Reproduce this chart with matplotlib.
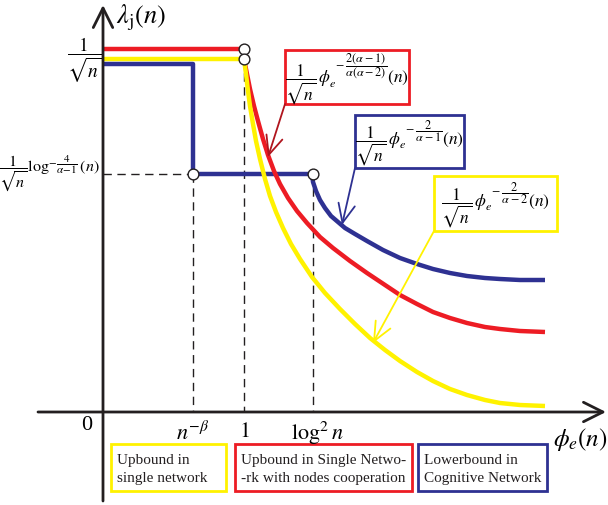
import matplotlib
matplotlib.use("Agg")
import matplotlib.pyplot as plt
from matplotlib.patches import Rectangle

# ==============================
# sketch of the throughput bounds lambda_j(n) vs phi_e(n)
# coordinates are in sketch units (pixels of the 608x506 canvas)
# ==============================
plt.rcParams['font.family'] = ['Liberation Serif', 'DejaVu Serif']
plt.rcParams['mathtext.fontset'] = 'stix'

RED = '#ED1C24'
YELLOW = '#FFF200'
BLUE = '#2E3192'

# special points on the phi_e(n) axis
x_ticks = [193, 244, 313]
x_tick_labels = [r'$n^{-\beta}$', r'$1$', r'$\log^2 n$']

# levels on the lambda_j(n) axis
y_ticks = [55, 175]
y_tick_labels = [r'$\dfrac{1}{\sqrt{n}}$',
                 r'$\dfrac{1}{\sqrt{n}}\log^{-\dfrac{4}{\alpha-1}}(n)$']

# flat parts
red_flat_x = [103, 244]
red_flat_y = [50, 50]
yellow_flat_x = [103, 244]
yellow_flat_y = [60, 60]
blue_step_x = [103, 193, 193, 313]
blue_step_y = [65, 65, 175, 175]

# decaying parts
red_curve_x = [244, 247, 250, 254, 258, 263, 268, 274, 280, 288, 297, 307, 320,
               333, 350, 367, 385, 400, 417, 433, 450, 467, 485, 500, 520, 545]
red_curve_y = [60, 75, 90, 107, 122, 140, 156, 172, 185, 199, 212, 224, 238,
               249, 262, 274, 286, 296, 305, 313, 319, 324, 328, 330, 332, 333]
yellow_curve_x = [244, 246, 248, 250, 253, 256, 260, 265, 270, 276, 283, 291, 300, 312,
                  325, 340, 355, 370, 385, 400, 417, 433, 450, 467, 485, 500, 520, 545]
yellow_curve_y = [60, 75, 92, 107, 125, 142, 160, 180, 197, 213, 229, 245, 260, 278,
                  294, 310, 325, 339, 351, 362, 373, 382, 390, 396, 401, 404, 406, 407]
blue_curve_x = [312, 313, 316, 320, 325, 331, 338, 345, 355, 367, 383, 400, 417, 433,
                450, 467, 485, 500, 520, 545]
blue_curve_y = [175, 183, 192, 201, 209, 217, 223, 229, 235, 242, 251, 259, 265, 270,
                274, 277, 279, 280, 281, 281]

# open circles at the breakpoints
circle_x = [244, 244, 193, 313]
circle_y = [50, 60, 175, 175]

legend_labels = ['Upbound in\nsingle network',
                 'Upbound in Single Netwo-\n-rk with nodes cooperation',
                 'Lowerbound in\nCognitive Network']
legend_colors = [YELLOW, RED, BLUE]

formulas = [r'$\dfrac{1}{\sqrt{n}}\,\phi_e^{\;-\dfrac{2(\alpha-1)}{\alpha(\alpha-2)}}(n)$',
            r'$\dfrac{1}{\sqrt{n}}\,\phi_e^{\;-\dfrac{2}{\alpha-1}}(n)$',
            r'$\dfrac{1}{\sqrt{n}}\,\phi_e^{\;-\dfrac{2}{\alpha-2}}(n)$']
formula_colors = [RED, BLUE, YELLOW]
arrow_colors = ['#B0151E', BLUE, YELLOW]

# ==============================
# FIGURE
# ==============================
fig = plt.figure(figsize=(6.08, 5.06), dpi=100)
ax = fig.add_axes([0, 0, 1, 1])
ax.set_xlim(0, 608)
ax.set_ylim(506, 0)
ax.axis('off')

# axes with open arrow heads
axis_arrow = dict(arrowstyle='->,head_length=0.7,head_width=0.35',
                  lw=2, color='#231F20', mutation_scale=20,
                  shrinkA=0, shrinkB=0)
ax.annotate('', xy=(606, 413), xytext=(38, 413), arrowprops=axis_arrow)
ax.annotate('', xy=(103, 6), xytext=(103, 502), arrowprops=axis_arrow)

# dashed guide lines
dash = dict(color='#231F20', lw=1, ls=(0, (6, 4)))
ax.plot([103, x_ticks[0]], [y_ticks[1], y_ticks[1]], **dash)
ax.plot([x_ticks[0], x_ticks[0]], [y_ticks[1], 413], **dash)
ax.plot([x_ticks[1], x_ticks[1]], [60, 413], **dash)
ax.plot([x_ticks[2], x_ticks[2]], [y_ticks[1], 413], **dash)

# bound curves
lw = 3.2
style = dict(lw=lw, solid_capstyle='butt', solid_joinstyle='round')
ax.plot(red_flat_x, red_flat_y, color=RED, **style)
ax.plot(yellow_flat_x, yellow_flat_y, color=YELLOW, **style)
ax.plot(blue_step_x, blue_step_y, color=BLUE, **style)
ax.plot(red_curve_x, red_curve_y, color=RED, **style)
ax.plot(yellow_curve_x, yellow_curve_y, color=YELLOW, **style)
ax.plot(blue_curve_x, blue_curve_y, color=BLUE, **style)

ax.scatter(circle_x, circle_y, s=60, facecolor='white', edgecolor='#231F20',
           linewidth=1, zorder=5)

# axis labels and ticks
ax.text(116, 18, r'$\lambda_{\mathrm{j}}(n)$', fontsize=19, va='center', ha='left')
ax.text(607, 440, r'$\phi_e(n)$', fontsize=18, va='center', ha='right')
ax.text(87, 426, '0', fontsize=16, va='center', ha='center')
for xt, lab in zip(x_ticks, x_tick_labels):
    ax.text(xt + (4 if lab.startswith(r'$\log') else 0), 433, lab, fontsize=16,
            va='center', ha='center')
ax.text(84, 60, y_tick_labels[0], fontsize=14, va='center', ha='center')
ax.text(100, 174, y_tick_labels[1], fontsize=11.5, va='center', ha='right')

# formula boxes with pointers
boxes = [(285, 51, 124, 54), (355, 116, 109, 53), (434, 177, 123, 55)]
targets = [(268, 158), (342, 226), (373, 344)]
for (bx, by, bw, bh), f, fc, ac, (tx, ty) in zip(boxes, formulas, formula_colors,
                                                 arrow_colors, targets):
    ax.add_patch(Rectangle((bx, by), bw, bh, fill=True, facecolor='white',
                           edgecolor=fc, lw=2, zorder=6))
    ax.text(bx + bw / 2, by + bh / 2 + 1, f, fontsize=12.5, ha='center',
            va='center', zorder=7)
    ax.annotate('', xy=(tx, ty), xytext=(bx, by + bh),
                arrowprops=dict(arrowstyle='->,head_length=0.9,head_width=0.4',
                                lw=1.3, color=ac, mutation_scale=15,
                                shrinkA=0, shrinkB=0), zorder=6)

# legend boxes under the axis
legend_boxes = [(111, 445, 115, 47), (235, 445, 177, 47), (418, 445, 129, 47)]
for (bx, by, bw, bh), lab, col in zip(legend_boxes, legend_labels, legend_colors):
    ax.add_patch(Rectangle((bx, by), bw, bh, fill=False, edgecolor=col, lw=2))
    ax.text(bx + 6, by + bh / 2 + 1, lab, fontsize=11, ha='left', va='center',
            linespacing=1.5, color='#231F20')

fig.savefig('out.png', dpi=100)
